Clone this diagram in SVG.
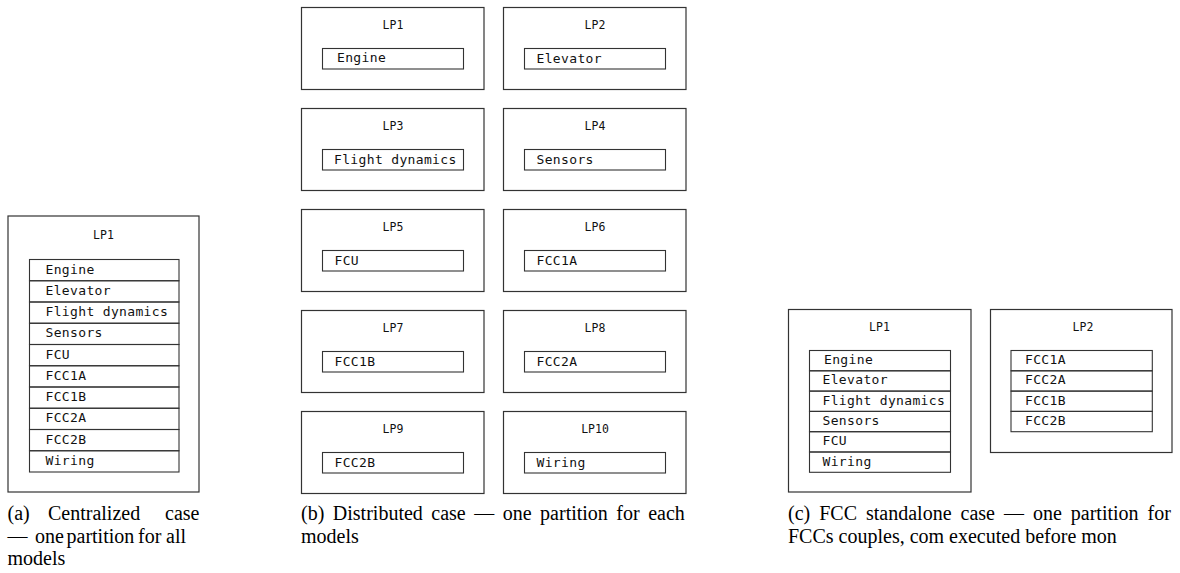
<svg xmlns="http://www.w3.org/2000/svg" width="1180" height="573" viewBox="0 0 1180 573">
<style>
.box{fill:#fff;stroke:#333;stroke-width:1.2}
.cell{fill:none;stroke:#333;stroke-width:1.1}
.title{font-family:"DejaVu Sans Mono","Liberation Mono",monospace;font-size:11.5px;fill:#111;text-anchor:middle}
.lbl{font-family:"DejaVu Sans Mono","Liberation Mono",monospace;font-size:13px;letter-spacing:0.35px;fill:#111}
.cap{font-family:"Liberation Serif","Times New Roman",serif;font-size:20px;fill:#000}
</style>
<rect width="1180" height="573" fill="#fff"/>

<!-- (a) Centralized -->
<g id="a-LP1">
<rect class="box" x="8" y="216" width="191" height="276"/>
<text class="title" x="103.5" y="239">LP1</text>
<rect class="cell" x="29.5" y="259.5" width="149.5" height="21.25"/>
<rect class="cell" x="29.5" y="280.75" width="149.5" height="21.25"/>
<rect class="cell" x="29.5" y="302" width="149.5" height="21.25"/>
<rect class="cell" x="29.5" y="323.25" width="149.5" height="21.25"/>
<rect class="cell" x="29.5" y="344.5" width="149.5" height="21.25"/>
<rect class="cell" x="29.5" y="365.75" width="149.5" height="21.25"/>
<rect class="cell" x="29.5" y="387" width="149.5" height="21.25"/>
<rect class="cell" x="29.5" y="408.25" width="149.5" height="21.25"/>
<rect class="cell" x="29.5" y="429.5" width="149.5" height="21.25"/>
<rect class="cell" x="29.5" y="450.75" width="149.5" height="21.25"/>
<text class="lbl" x="45.5" y="273.5">Engine</text>
<text class="lbl" x="45.5" y="294.75">Elevator</text>
<text class="lbl" x="45.5" y="316">Flight dynamics</text>
<text class="lbl" x="45.5" y="337.25">Sensors</text>
<text class="lbl" x="45.5" y="358.5">FCU</text>
<text class="lbl" x="45.5" y="379.75">FCC1A</text>
<text class="lbl" x="45.5" y="401">FCC1B</text>
<text class="lbl" x="45.5" y="422.25">FCC2A</text>
<text class="lbl" x="45.5" y="443.5">FCC2B</text>
<text class="lbl" x="45.5" y="464.75">Wiring</text>
</g>

<!-- (b) Distributed -->
<g id="b-LP1">
<rect class="box" x="301.5" y="7.5" width="182.5" height="82"/>
<text class="title" x="393" y="28.5">LP1</text>
<rect class="cell" x="322.5" y="48.5" width="141" height="20.5"/>
<text class="lbl" x="337" y="62">Engine</text>
</g>
<g id="b-LP2">
<rect class="box" x="503.5" y="7.5" width="182.5" height="82"/>
<text class="title" x="595" y="28.5">LP2</text>
<rect class="cell" x="524.5" y="48.5" width="141" height="20.5"/>
<text class="lbl" x="536.5" y="62.5">Elevator</text>
</g>
<g id="b-LP3">
<rect class="box" x="301.5" y="108.5" width="182.5" height="82"/>
<text class="title" x="393" y="129.5">LP3</text>
<rect class="cell" x="322.5" y="149.5" width="141" height="20.5"/>
<text class="lbl" x="334" y="163.5">Flight dynamics</text>
</g>
<g id="b-LP4">
<rect class="box" x="503.5" y="108.5" width="182.5" height="82"/>
<text class="title" x="595" y="129.5">LP4</text>
<rect class="cell" x="524.5" y="149.5" width="141" height="20.5"/>
<text class="lbl" x="536.5" y="163.5">Sensors</text>
</g>
<g id="b-LP5">
<rect class="box" x="301.5" y="209.5" width="182.5" height="82"/>
<text class="title" x="393" y="230.5">LP5</text>
<rect class="cell" x="322.5" y="250.5" width="141" height="20.5"/>
<text class="lbl" x="334.5" y="264.5">FCU</text>
</g>
<g id="b-LP6">
<rect class="box" x="503.5" y="209.5" width="182.5" height="82"/>
<text class="title" x="595" y="230.5">LP6</text>
<rect class="cell" x="524.5" y="250.5" width="141" height="20.5"/>
<text class="lbl" x="536.5" y="264.5">FCC1A</text>
</g>
<g id="b-LP7">
<rect class="box" x="301.5" y="310.5" width="182.5" height="82"/>
<text class="title" x="393" y="331.5">LP7</text>
<rect class="cell" x="322.5" y="351.5" width="141" height="20.5"/>
<text class="lbl" x="334.5" y="365.5">FCC1B</text>
</g>
<g id="b-LP8">
<rect class="box" x="503.5" y="310.5" width="182.5" height="82"/>
<text class="title" x="595" y="331.5">LP8</text>
<rect class="cell" x="524.5" y="351.5" width="141" height="20.5"/>
<text class="lbl" x="536.5" y="365.5">FCC2A</text>
</g>
<g id="b-LP9">
<rect class="box" x="301.5" y="411.5" width="182.5" height="82"/>
<text class="title" x="393" y="432.5">LP9</text>
<rect class="cell" x="322.5" y="452.5" width="141" height="20.5"/>
<text class="lbl" x="334.5" y="466.5">FCC2B</text>
</g>
<g id="b-LP10">
<rect class="box" x="503.5" y="411.5" width="182.5" height="82"/>
<text class="title" x="595" y="432.5">LP10</text>
<rect class="cell" x="524.5" y="452.5" width="141" height="20.5"/>
<text class="lbl" x="536.5" y="466.5">Wiring</text>
</g>

<!-- (c) FCC standalone -->
<g id="c-LP1">
<rect class="box" x="788.5" y="309.5" width="182.5" height="182.5"/>
<text class="title" x="879.5" y="330.5">LP1</text>
<rect class="cell" x="809.5" y="350.5" width="141" height="20.3"/>
<rect class="cell" x="809.5" y="370.8" width="141" height="20.3"/>
<rect class="cell" x="809.5" y="391.1" width="141" height="20.3"/>
<rect class="cell" x="809.5" y="411.4" width="141" height="20.3"/>
<rect class="cell" x="809.5" y="431.7" width="141" height="20.3"/>
<rect class="cell" x="809.5" y="452" width="141" height="20.3"/>
<text class="lbl" x="824" y="364">Engine</text>
<text class="lbl" x="822.5" y="384.3">Elevator</text>
<text class="lbl" x="822.5" y="404.6">Flight dynamics</text>
<text class="lbl" x="822.5" y="424.9">Sensors</text>
<text class="lbl" x="822.5" y="445.2">FCU</text>
<text class="lbl" x="822.5" y="465.5">Wiring</text>
</g>
<g id="c-LP2">
<rect class="box" x="990.5" y="309.5" width="181.5" height="143"/>
<text class="title" x="1083" y="330.5">LP2</text>
<rect class="cell" x="1011" y="350.5" width="141.3" height="20.3"/>
<rect class="cell" x="1011" y="370.8" width="141.3" height="20.3"/>
<rect class="cell" x="1011" y="391.1" width="141.3" height="20.3"/>
<rect class="cell" x="1011" y="411.4" width="141.3" height="20.3"/>
<text class="lbl" x="1025" y="364">FCC1A</text>
<text class="lbl" x="1025" y="384.3">FCC2A</text>
<text class="lbl" x="1025" y="404.6">FCC1B</text>
<text class="lbl" x="1025" y="424.9">FCC2B</text>
</g>

<g id="connectors"/>

<!-- captions -->
<g id="captions">
<text class="cap" y="520"><tspan x="7.5">(a)</tspan><tspan x="48">Centralized</tspan><tspan x="165">case</tspan></text>
<text class="cap" y="542.5"><tspan x="7.5">—</tspan><tspan x="35">one</tspan><tspan x="66.5">partition</tspan><tspan x="138">for</tspan><tspan x="166">all</tspan></text>
<text class="cap" x="7.5" y="565">models</text>
<text class="cap" x="301" y="520" word-spacing="3.5">(b) Distributed case — one partition for each</text>
<text class="cap" x="301" y="542.5">models</text>
<text class="cap" x="788" y="520" word-spacing="4">(c) FCC standalone case — one partition for</text>
<text class="cap" x="788" y="542.5">FCCs couples, com executed before mon</text>
</g>
</svg>
